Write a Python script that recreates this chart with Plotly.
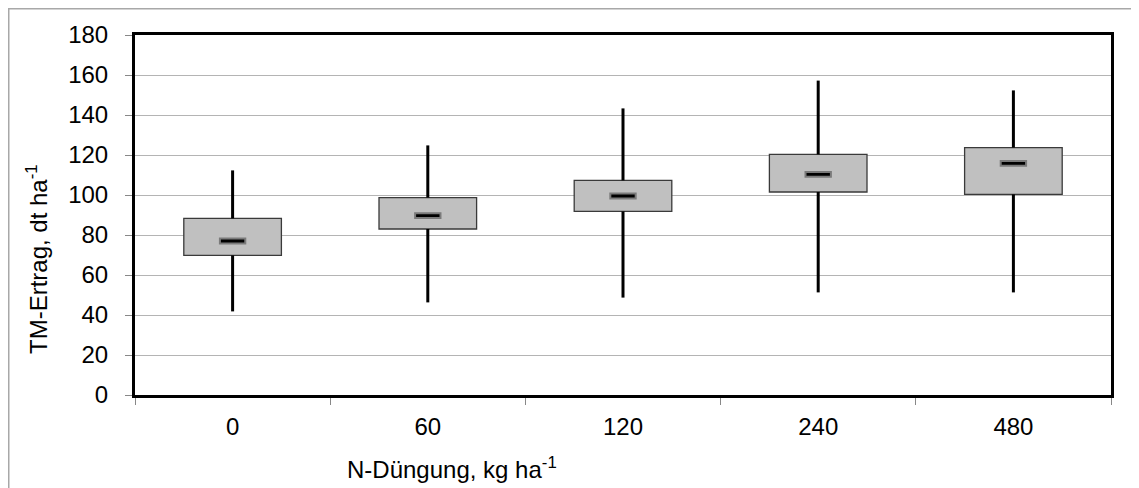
import plotly.graph_objects as go

categories = ["0", "60", "120", "240", "480"]
q1 = [69.8, 83.0, 91.8, 101.5, 100.3]
q3 = [88.3, 98.7, 107.3, 120.3, 123.7]
median = [77.0, 89.7, 99.5, 110.3, 115.8]
whisker_low = [41.8, 46.3, 48.7, 51.3, 51.3]
whisker_high = [112.3, 124.8, 143.3, 157.2, 152.3]
y_ticks = list(range(0, 181, 20))

FONT = "Liberation Sans, Arial, sans-serif"
FS = 24

# page body has an 8px default margin; figure placed so plot area is at page x 135..1111, y 35..395
ML, MT = 127, 27
PW, PH = 976, 360
W, H = 1131, 480

fig = go.Figure()

# boxes
fig.add_trace(go.Bar(
    x=categories, y=[b - a for a, b in zip(q1, q3)], base=q1, width=0.5,
    marker=dict(color="#C0C0C0", line=dict(color="#3A3A3A", width=1.3)),
    hoverinfo="skip", showlegend=False,
))
# median markers
med_h = 2.4
fig.add_trace(go.Bar(
    x=categories, y=[med_h] * len(median), base=[m - med_h / 2 for m in median], width=0.13,
    marker=dict(color="#000000", line=dict(color="#7A7A7A", width=2)),
    hoverinfo="skip", showlegend=False,
))

# whiskers
wx, wy = [], []
for c, lo, a, b, hi in zip(categories, whisker_low, q1, q3, whisker_high):
    wx += [c, c, None, c, c, None]
    wy += [lo, a, None, b, hi, None]
fig.add_trace(go.Scatter(
    x=wx, y=wy, mode="lines", line=dict(color="#000000", width=3),
    hoverinfo="skip", showlegend=False, connectgaps=False,
))

fig.update_layout(
    width=W, height=H,
    margin=dict(l=ML, r=W - ML - PW, t=MT, b=H - MT - PH, pad=0),
    paper_bgcolor="white", plot_bgcolor="white",
    barmode="overlay",
    font=dict(family=FONT, size=FS, color="#000000"),
    xaxis=dict(
        type="category", categoryorder="array", categoryarray=categories,
        showline=True, linecolor="#000000", linewidth=3, mirror=True,
        ticks="outside", tickson="boundaries", ticklen=7, tickcolor="#888888", tickwidth=1,
        showgrid=False, tickfont=dict(size=FS), ticklabelstandoff=8,
    ),
    yaxis=dict(
        range=[0, 180], tickvals=y_ticks, ticktext=[str(v) for v in y_ticks],
        showline=True, linecolor="#000000", linewidth=3, mirror=True,
        ticks="outside", ticklen=7, tickcolor="#888888", tickwidth=1,
        showgrid=True, gridcolor="#B4B4B4", gridwidth=1, zeroline=False,
        tickfont=dict(size=FS), ticklabelstandoff=12,
    ),
    annotations=[
        dict(text="TM-Ertrag, dt ha<sup>-1</sup>", textangle=-90,
             xref="paper", yref="paper", x=(37 - 135) / PW, y=(395 - 259) / PH,
             xanchor="center", yanchor="middle", showarrow=False, font=dict(size=FS)),
        dict(text="N-Düngung, kg ha<sup>-1</sup>",
             xref="paper", yref="paper", x=(345 - 135) / PW, y=(395 - 468) / PH,
             xanchor="left", yanchor="middle", showarrow=False, font=dict(size=FS)),
    ],
    shapes=[
        dict(type="rect", xref="paper", yref="paper",
             x0=(0.75 - ML) / PW, x1=(W + 20 - ML) / PW,
             y0=(MT + PH - (H + 20)) / PH, y1=(MT + PH - 0.75) / PH,
             line=dict(color="#A8A8A8", width=1.5), fillcolor="rgba(0,0,0,0)", layer="below"),
    ],
)

fig.write_html("out.html")
